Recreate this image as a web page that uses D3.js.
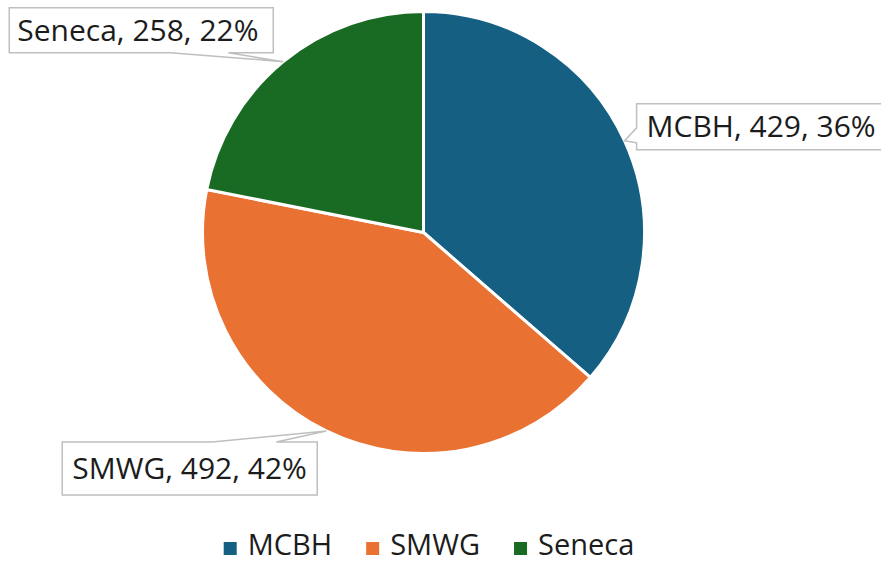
<!DOCTYPE html>
<html>
<head>
<meta charset="utf-8">
<script src="https://cdn.jsdelivr.net/npm/d3@7"></script>
<style>
  body { margin: 0; background: #fff; }
  text { font-family: "Open Sans", "Liberation Sans", sans-serif; fill: #1c1c1c; }
</style>
</head>
<body>
<div id="chart"></div>
<script>
const categories = ["MCBH", "SMWG", "Seneca"];
const values = [429, 492, 258];
const colors = ["#156082", "#E97132", "#196B24"];

// callout boxes, relative to the slice edge point
const callouts = [
  { dx: 12, dy: -37, w: 260, h: 46, side: "left", b0: -13, b1: 2 },
  { dx: -264, dy: 11, w: 255, h: 53, side: "top", b0: -114, b1: -50 },
  { dx: -274, dy: -54, w: 264, h: 45, side: "bottom", b0: -113, b1: -55 }
];
const pads = [10, 10, 8];

const width = 881, height = 563;
const cx = 423.5, cy = 232.5, r = 221;

const svg = d3.select("#chart").append("svg")
  .attr("width", width).attr("height", height);

const data = categories.map((c, i) => ({ name: c, value: values[i], color: colors[i] }));
const total = d3.sum(values);

const pie = d3.pie().sort(null).value(d => d.value);
const arc = d3.arc().innerRadius(0).outerRadius(r);
const edge = d3.arc().innerRadius(r).outerRadius(r);

const g = svg.append("g").attr("transform", `translate(${cx},${cy})`);
const arcs = pie(data);

g.selectAll("path.slice")
  .data(arcs)
  .enter()
  .append("path")
  .attr("class", "slice")
  .attr("d", arc)
  .attr("fill", d => d.data.color)
  .attr("stroke", "#fff")
  .attr("stroke-width", 3)
  .attr("stroke-linejoin", "round");

// labels with callouts
const labels = g.selectAll("g.label").data(arcs).enter().append("g").attr("class", "label");

labels.each(function (d, i) {
  const [tx, ty] = edge.centroid(d);
  const c = callouts[i];
  const x0 = tx + c.dx, y0 = ty + c.dy, x1 = x0 + c.w, y1 = y0 + c.h;
  let p;
  if (c.side === "left") {
    p = `M${x0},${y0}H${x1}V${y1}H${x0}V${ty + c.b1}L${tx},${ty}L${x0},${ty + c.b0}Z`;
  } else if (c.side === "top") {
    p = `M${x0},${y0}H${tx + c.b0}L${tx},${ty}L${tx + c.b1},${y0}H${x1}V${y1}H${x0}Z`;
  } else {
    p = `M${x0},${y0}H${x1}V${y1}H${tx + c.b1}L${tx},${ty}L${tx + c.b0},${y1}H${x0}Z`;
  }
  const sel = d3.select(this);
  sel.append("path")
    .attr("d", p)
    .attr("fill", "#fff")
    .attr("stroke", "#bfbfbf")
    .attr("stroke-width", 1.5);
  const pct = Math.round(d.data.value / total * 100);
  sel.append("text")
    .attr("x", x0 + pads[i])
    .attr("y", (y0 + y1) / 2)
    .attr("dy", "0.35em")
    .style("font-size", "30px")
    .text(`${d.data.name}, ${d.data.value}, ${pct}%`);
});

// legend
const legend = svg.append("g").attr("transform", "translate(0,555)");
const items = legend.selectAll("g").data(data).enter().append("g");
items.append("rect")
  .attr("y", -13).attr("width", 13).attr("height", 13)
  .attr("fill", d => d.color);
items.append("text")
  .attr("x", 24)
  .style("font-size", "29px")
  .text(d => d.name);

let pos = 0;
const xs = [];
items.each(function () {
  xs.push(pos);
  pos += this.getBBox().width + 34;
});
const legendW = pos - 34;
const startX = cx + 5.5 - legendW / 2;
items.attr("transform", (d, i) => `translate(${startX + xs[i]},0)`);
</script>
</body>
</html>
